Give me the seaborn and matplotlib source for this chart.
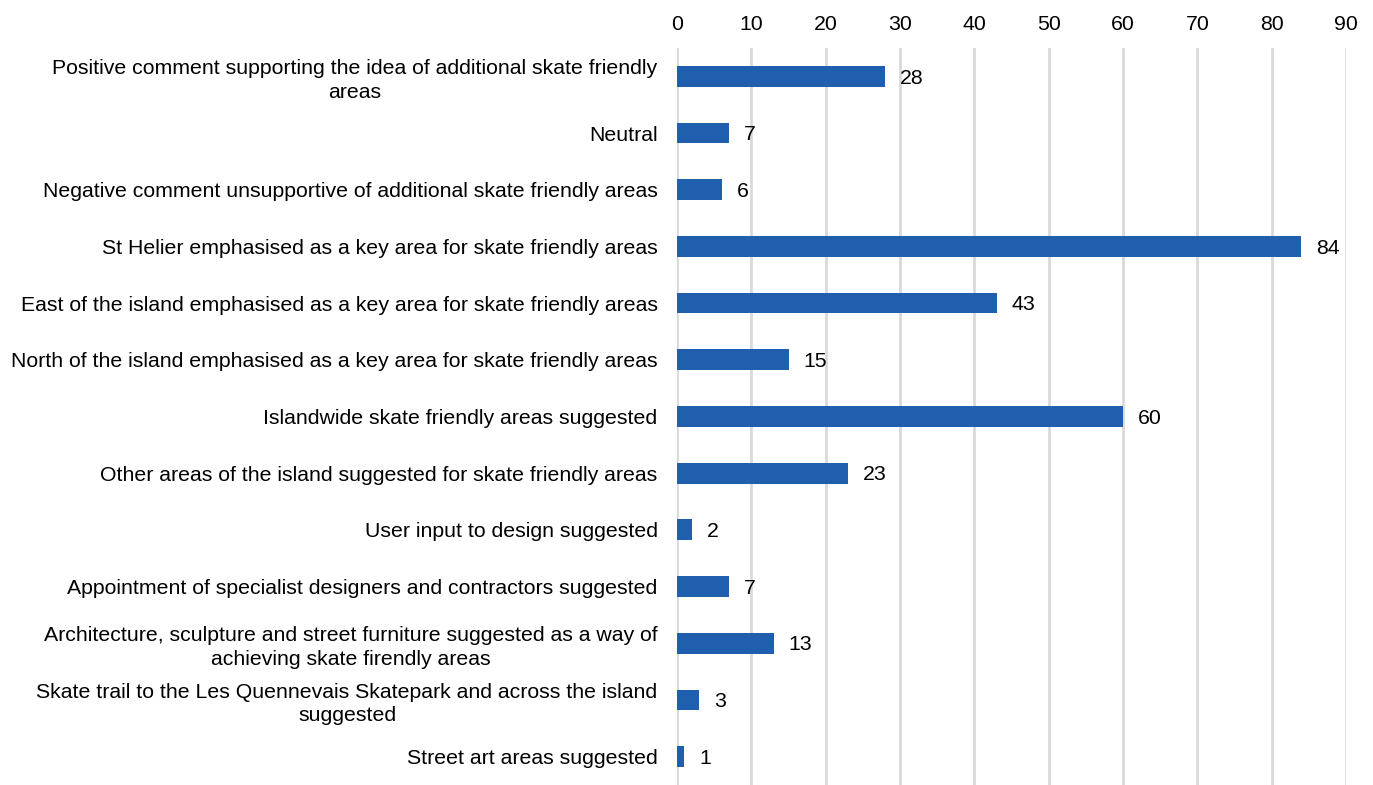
import matplotlib
matplotlib.use("Agg")
import matplotlib.pyplot as plt
import seaborn as sns
import pandas as pd

categories = [
    "Positive comment supporting the idea of additional skate friendly\nareas",
    "Neutral",
    "Negative comment unsupportive of additional skate friendly areas",
    "St Helier emphasised as a key area for skate friendly areas",
    "East of the island emphasised as a key area for skate friendly areas",
    "North of the island emphasised as a key area for skate friendly areas",
    "Islandwide skate friendly areas suggested",
    "Other areas of the island suggested for skate friendly areas",
    "User input to design suggested",
    "Appointment of specialist designers and contractors suggested",
    "Architecture, sculpture and street furniture suggested as a way of\nachieving skate firendly areas",
    "Skate trail to the Les Quennevais Skatepark and across the island\nsuggested",
    "Street art areas suggested",
]
counts = [28, 7, 6, 84, 43, 15, 60, 23, 2, 7, 13, 3, 1]
xticks = [0, 10, 20, 30, 40, 50, 60, 70, 80, 90]

df = pd.DataFrame({"category": categories, "count": counts})

sns.set_style("white")
plt.rcParams["font.family"] = ["Liberation Sans", "DejaVu Sans"]

fig = plt.figure(figsize=(13.73, 7.85), dpi=100)
ax = fig.add_axes([0.4931, 0.0, 0.4873, 0.9389])

sns.barplot(data=df, x="count", y="category", color="#1F5FAD", saturation=1,
            width=0.367, linewidth=0, ax=ax, zorder=3)

ax.set_xlim(0, 90)
ax.set_ylim(len(categories) - 0.5, -0.5)
ax.set_xticks(xticks)
ax.xaxis.tick_top()
ax.tick_params(axis="x", length=0, pad=10, labelsize=15.3, colors="black")
ax.tick_params(axis="y", length=0, pad=14, labelsize=15.3, colors="black")
for lbl in ax.get_yticklabels():
    lbl.set_horizontalalignment("right")
    lbl.set_multialignment("center")
    lbl.set_linespacing(1.3)
ax.set_xlabel("")
ax.set_ylabel("")
ax.grid(axis="x", color="#D9D9D9", linewidth=2, zorder=0)
for s in ax.spines.values():
    s.set_visible(False)

for i, v in enumerate(counts):
    ax.text(v + 2.0, i + 0.03, str(v), va="center", ha="left", fontsize=15.3, color="black")

fig.savefig("out.png", dpi=100)
